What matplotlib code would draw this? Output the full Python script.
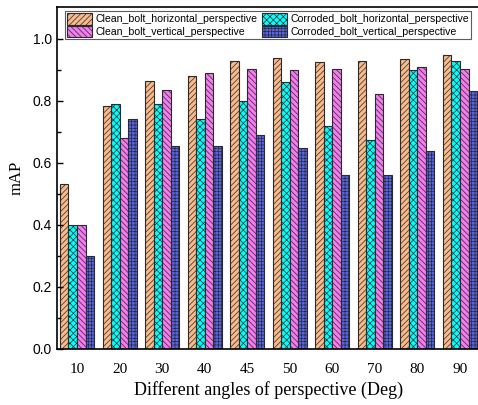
import matplotlib
matplotlib.use("Agg")
import matplotlib.pyplot as plt
import numpy as np

angles = ["10", "20", "30", "40", "45", "50", "60", "70", "80", "90"]
series_names = ["Clean_bolt_horizontal_perspective", "Corroded_bolt_horizontal_perspective",
                "Clean_bolt_vertical_perspective", "Corroded_bolt_vertical_perspective"]
clean_h = [0.532, 0.785, 0.865, 0.882, 0.930, 0.937, 0.925, 0.928, 0.934, 0.947]
corroded_h = [0.400, 0.791, 0.790, 0.742, 0.800, 0.862, 0.720, 0.674, 0.901, 0.930]
clean_v = [0.400, 0.680, 0.834, 0.891, 0.904, 0.901, 0.904, 0.821, 0.911, 0.904]
corroded_v = [0.300, 0.742, 0.656, 0.656, 0.690, 0.649, 0.562, 0.562, 0.640, 0.833]

colors = ["#F9B98A", "#00FFFF", "#F57BF0", "#5563F0"]
hatches = ["//////", "xxxxx", "\\\\\\\\\\\\", "+++++"]

plt.rcParams['hatch.linewidth'] = 0.5
fig = plt.figure(figsize=(4.78, 4.05), dpi=100)
ax = fig.add_axes([57/478, 1-349/405, (480-57)/478, (349-7)/405])

x = np.arange(len(angles))
w = 0.2
data = [clean_h, corroded_h, clean_v, corroded_v]
handles = []
for k, (vals, c, h, name) in enumerate(zip(data, colors, hatches, series_names)):
    b = ax.bar(x + (k - 1.5) * w, vals, w, color=c, hatch=h, edgecolor="#2a2a2a",
               linewidth=0.8, label=name)
    handles.append(b)

ax.set_xlim(-0.47, 9.47)
ax.set_ylim(0, 1.103)
ax.set_xticks(x)
ax.set_xticklabels(angles, family="Liberation Serif", fontsize=11)
ax.tick_params(axis="x", length=0, pad=10)
ax.set_yticks(np.arange(0, 1.01, 0.2))
ax.set_yticklabels([f"{v:.1f}" for v in np.arange(0, 1.01, 0.2)], family="Liberation Sans", fontsize=10)
ax.set_yticks(np.arange(0.1, 1.1, 0.2), minor=True)
ax.tick_params(axis="y", which="major", direction="in", length=4, width=1)
ax.tick_params(axis="y", which="minor", direction="in", length=3, width=1)
ax.spines["right"].set_visible(False)
for s in ["left", "bottom", "top"]:
    ax.spines[s].set_linewidth(1.2)

ax.set_xlabel("Different angles of perspective (Deg)", family="Liberation Serif", fontsize=13, labelpad=4)
ax.set_ylabel("mAP", family="Liberation Serif", fontsize=12, labelpad=6)

leg = fig.legend(handles=[handles[0], handles[2], handles[1], handles[3]],
                 labels=[series_names[0], series_names[2], series_names[1], series_names[3]],
                 ncol=2, loc="upper left", bbox_to_anchor=(65/478, 1-11/405),
                 prop={"family": "Liberation Sans", "size": 7.6},
                 frameon=True, fancybox=False, edgecolor="#333333",
                 borderpad=0.2, borderaxespad=0, handlelength=2.4, handleheight=1.3,
                 handletextpad=0.3, columnspacing=0.4, labelspacing=0.1)
leg.get_frame().set_linewidth(0.8)

fig.savefig("out.png", dpi=100)
